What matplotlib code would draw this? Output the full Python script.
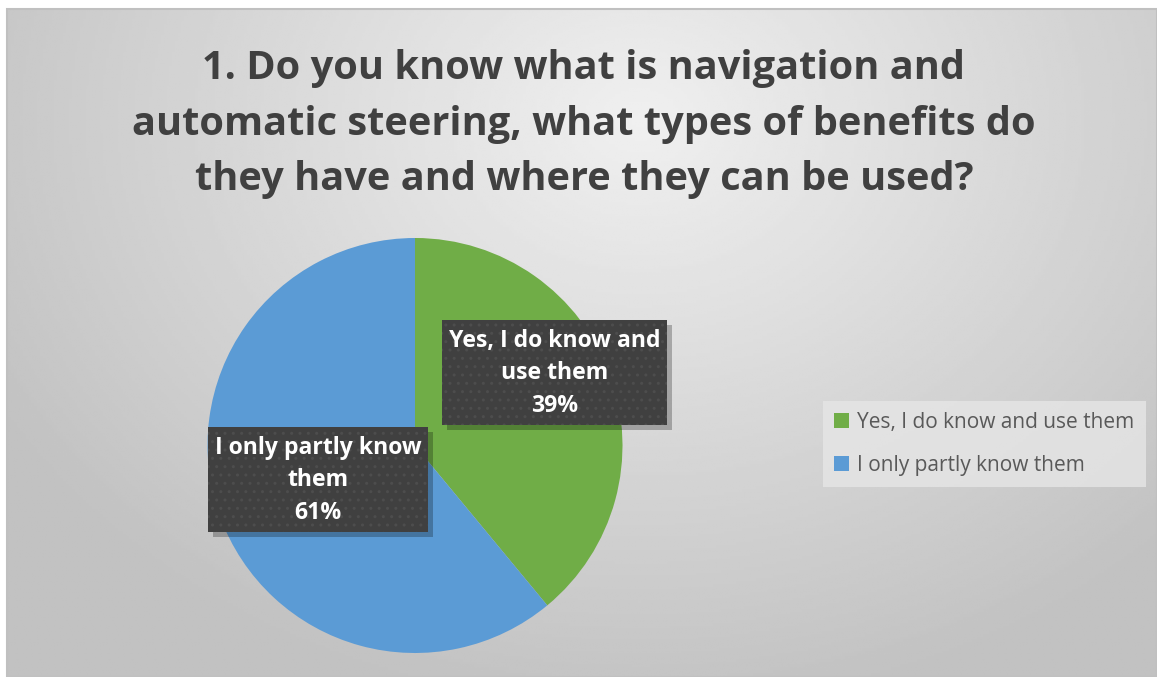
import numpy as np
import matplotlib.pyplot as plt
from matplotlib.patches import Rectangle, Patch

title = "1. Do you know what is navigation and\nautomatic steering, what types of benefits do\nthey have and where they can be used?"
categories = ["Yes, I do know and use them", "I only partly know them"]
box_labels = ["Yes, I do know and\nuse them", "I only partly know\nthem"]
values = [39, 61]
colors = ["#70ad47", "#5b9bd5"]

W, H = 1157, 677
fig = plt.figure(figsize=(W / 100, H / 100), dpi=100)
fig.patch.set_facecolor("white")


def fx(px):
    return px / W


def fy(py):
    return 1 - py / H


# background with radial gradient inside the chart frame
x0, y0, x1, y1 = 7, 9, 1157, 677
bg = fig.add_axes([fx(x0), fy(y1), fx(x1 - x0), (y1 - y0) / H], zorder=0)
gx, gy = np.meshgrid(np.linspace(x0, x1, 400), np.linspace(y0, y1, 240))
d = np.sqrt(((gx - 640) / 700) ** 2 + ((gy - 120) / 560) ** 2)
shade = np.clip(0.94 - 0.17 * d, 0.76, 0.94)
bg.imshow(shade, cmap="gray", vmin=0, vmax=1, extent=[0, 1, 0, 1], aspect="auto", origin="upper")
bg.set_axis_off()
fig.patches.append(Rectangle((fx(x0), fy(y1)), fx(x1 - x0), (y1 - y0) / H,
                             transform=fig.transFigure, fill=False, edgecolor="#c0c0c0", lw=1.5, zorder=1))

fig.text(fx(584), fy(124), title, ha="center", va="center", fontsize=28.6, fontweight="bold",
         color="#404040", family="Open Sans", linespacing=1.56, zorder=5)

# pie
cx, cy, r = 415, 445.5, 207.5
ax = fig.add_axes([fx(cx - r), fy(cy + r), fx(2 * r), 2 * r / H], zorder=2)
ax.pie(values, colors=colors, startangle=90, counterclock=False, radius=1,
       wedgeprops=dict(linewidth=0))
ax.set_xlim(-1, 1)
ax.set_ylim(-1, 1)
ax.set_aspect("equal")
ax.set_axis_off()

# data label boxes
boxes = [(442, 320, 667, 425), (208, 427, 428, 532)]
for (bx0, by0, bx1, by1), lab, v in zip(boxes, box_labels, values):
    fig.patches.append(Rectangle((fx(bx0 + 5), fy(by1 + 5)), fx(bx1 - bx0), (by1 - by0) / H,
                                 transform=fig.transFigure, facecolor="black", alpha=0.25,
                                 edgecolor="none", zorder=3))
    fig.patches.append(Rectangle((fx(bx0), fy(by1)), fx(bx1 - bx0), (by1 - by0) / H,
                                 transform=fig.transFigure, facecolor="#404040", hatch="..",
                                 edgecolor="#4d4d4d", lw=0, zorder=3))
    fig.text(fx((bx0 + bx1) / 2), fy((by0 + by1) / 2 + 1), f"{lab}\n{v}%", ha="center", va="center",
             fontsize=16.6, fontweight="bold", color="white", family="Open Sans",
             linespacing=1.45, zorder=6)

# legend
handles = [Patch(facecolor=c, edgecolor="none") for c in colors]
leg = fig.legend(handles, categories, loc="center left", bbox_to_anchor=(fx(823), fy(444)),
                 frameon=True, handlelength=0.7, handleheight=0.7,
                 handletextpad=0.4, labelspacing=1.05, borderpad=0.55, borderaxespad=0,
                 fancybox=False, prop={"family": "Open Sans", "size": 15})
leg.get_frame().set_facecolor("#e6e6e6")
leg.get_frame().set_edgecolor("none")
for t in leg.get_texts():
    t.set_color("#595959")

fig.savefig("out.png", dpi=100, facecolor="white")
